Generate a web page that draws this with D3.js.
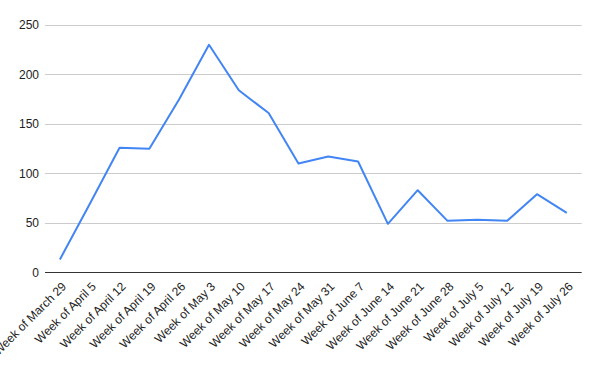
<!DOCTYPE html>
<html><head><meta charset="utf-8">
<script src="https://d3js.org/d3.v7.min.js"></script>
<style>body{margin:0;background:#fff}svg{display:block}text{font-family:"Liberation Sans",Arial,sans-serif}</style>
</head><body><svg id="c" width="600" height="371"></svg>
<script>
const categories = ["Week of March 29","Week of April 5","Week of April 12","Week of April 19","Week of April 26","Week of May 3","Week of May 10","Week of May 17","Week of May 24","Week of May 31","Week of June 7","Week of June 14","Week of June 21","Week of June 28","Week of July 5","Week of July 12","Week of July 19","Week of July 26"];
const values = [13,69,126,125,175,230,184,161,110,117,112,49,83,52,53,52,79,60];
const yTicks = [0,50,100,150,200,250];

(function(){
const svg = d3.select("#c");
const mLeft = 45, mRight = 581.7, mTop = 25, mBottom = 272.3;
const x = d3.scaleBand().domain(categories).range([mLeft, mRight]);
const y = d3.scaleLinear().domain([0,250]).range([mBottom, mTop]);

// gridlines
svg.append("g").selectAll("line").data(yTicks.filter(d=>d>0)).join("line")
  .attr("x1",mLeft).attr("x2",mRight)
  .attr("y1",d=>Math.round(y(d))+0.5).attr("y2",d=>Math.round(y(d))+0.5)
  .attr("stroke","#cccccc").attr("stroke-width",1);

// y labels
const yAxis = d3.axisLeft(y).tickValues(yTicks).tickSize(0).tickPadding(6);
const gy = svg.append("g").attr("transform",`translate(${mLeft},0)`).call(yAxis);
gy.select(".domain").remove();
gy.selectAll("text").attr("font-size",12).attr("fill","#222").attr("font-family","Liberation Sans, Arial, sans-serif");

// x axis line
svg.append("line").attr("x1",mLeft).attr("x2",mRight)
  .attr("y1",Math.round(y(0))+0.5).attr("y2",Math.round(y(0))+0.5)
  .attr("stroke","#333").attr("stroke-width",1);

// x labels
const xAxis = d3.axisBottom(x).tickSize(0).tickPadding(0);
const gx = svg.append("g").attr("transform",`translate(0,${mBottom})`).call(xAxis);
gx.select(".domain").remove();
gx.selectAll(".tick text")
  .attr("font-size",12).attr("fill","#222").attr("font-family","Liberation Sans, Arial, sans-serif")
  .attr("text-anchor","end").attr("dy",null).attr("y",null)
  .attr("transform","translate(7,15) rotate(-45)");

// line
const line = d3.line().x((d,i)=>x(categories[i])+x.bandwidth()/2).y(d=>y(d));
svg.append("path").datum(values).attr("d",line)
  .attr("fill","none").attr("stroke","#4285f4").attr("stroke-width",2).attr("stroke-linejoin","round");
})();
</script></body></html>
